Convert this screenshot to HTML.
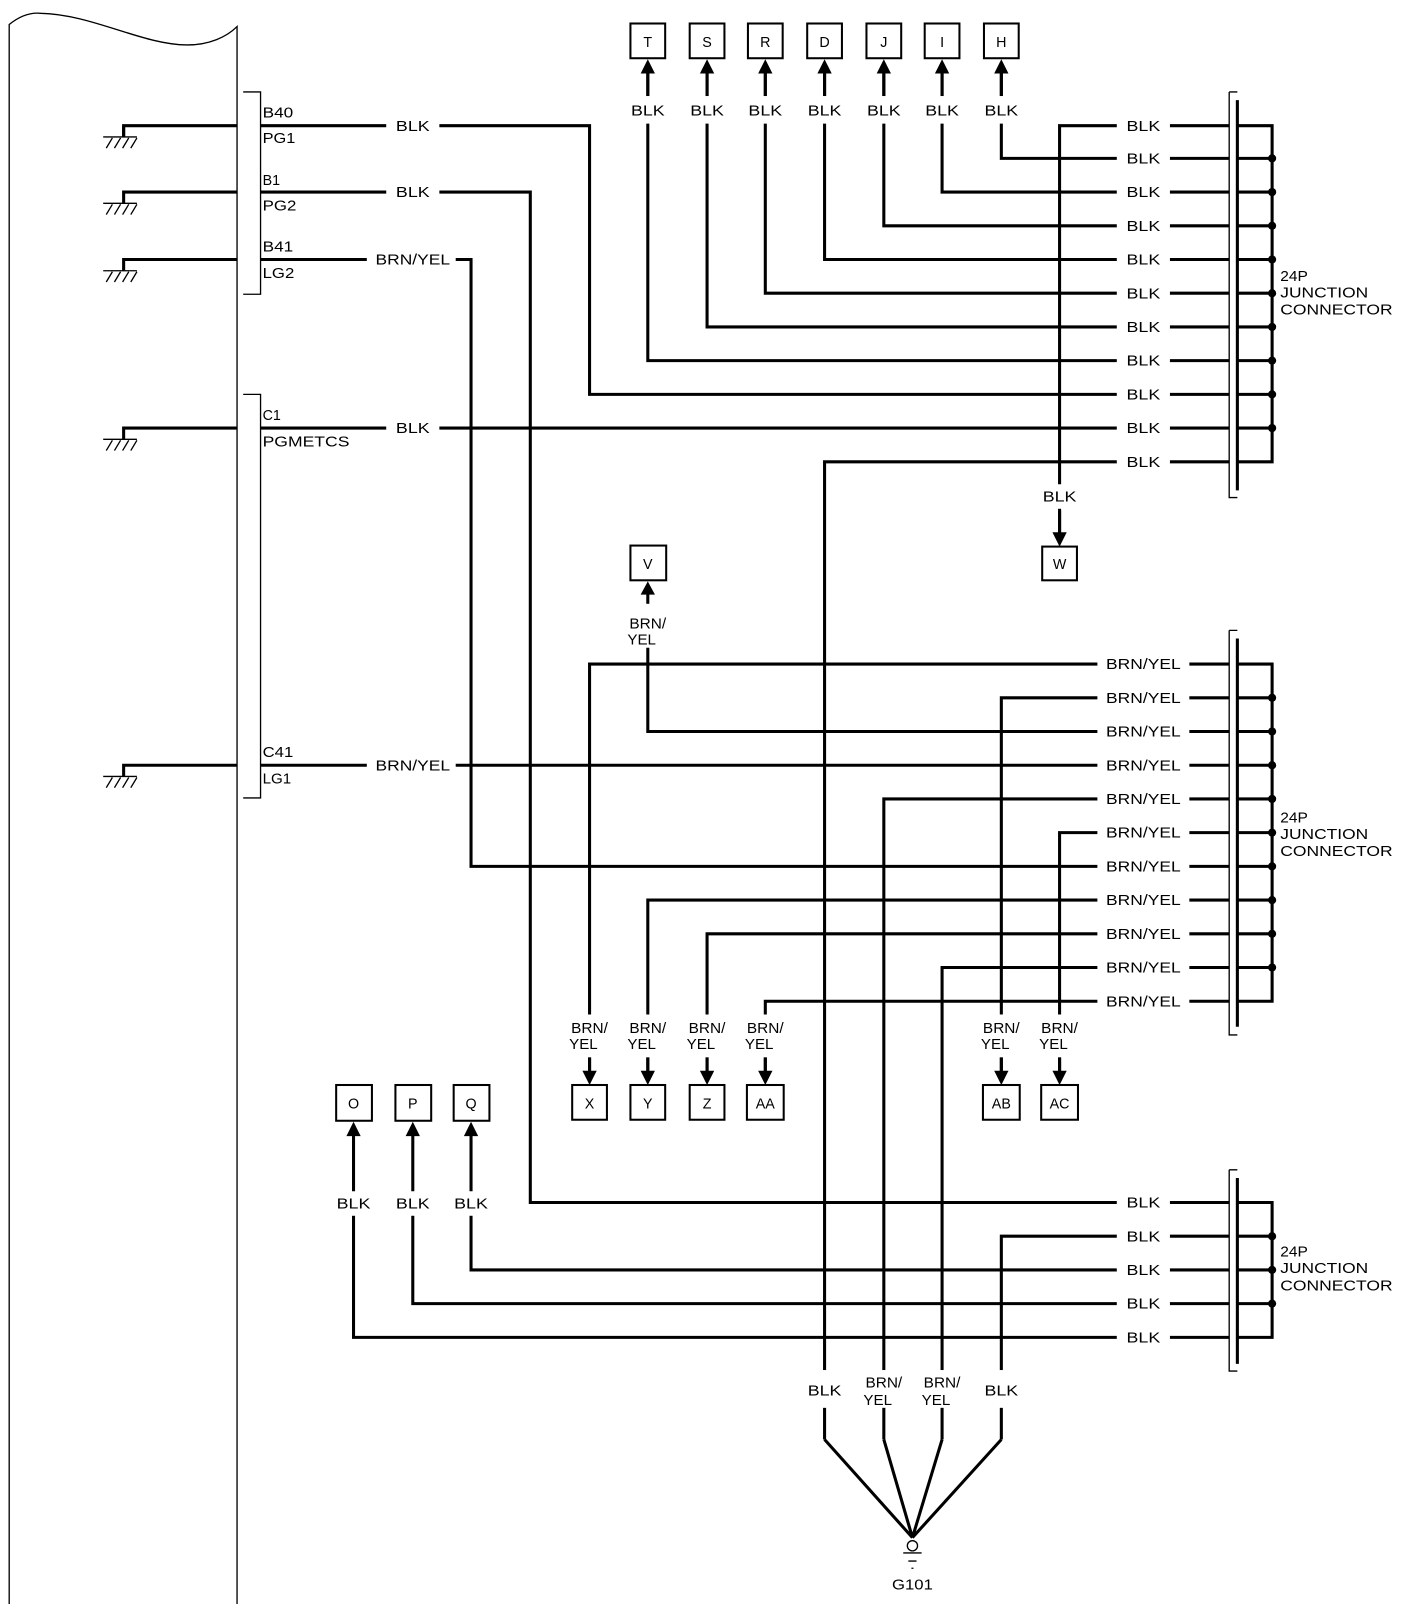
<!DOCTYPE html>
<html><head><meta charset="utf-8"><style>
html,body{margin:0;padding:0;background:#fff}
svg{display:block}
text{font-family:"Liberation Sans",Arial,sans-serif;font-size:14px;fill:#000}
.c{text-anchor:middle}
.w{stroke:#000;stroke-width:3;fill:none}
.t{stroke:#000;stroke-width:1.3;fill:none}
.bx{stroke:#000;stroke-width:2;fill:#fff}
.wb{fill:#fff;stroke:none}
</style></head><body>
<svg width="1408" height="1604" viewBox="0 0 1378 1570" preserveAspectRatio="none" xmlns="http://www.w3.org/2000/svg">
<!-- module -->
<path class="t" stroke-width="2" d="M9 1570 V24 C20 15 30 12 40 13 C90 14 140 44 183 44 C205 44 222 36 232 26 V1570"/>
<!-- brackets -->
<path class="t" d="M238 90 H255 V288 H238"/>
<path class="t" d="M238 386 H255 V781 H238"/>
<!-- grounds -->
<g class="w">
<path d="M121 134 V123 H232"/><path d="M121 134 V123" />
<path d="M121 199 V188 H232"/>
<path d="M121 265 V254 H232"/>
<path d="M121 430 V419 H232"/>
<path d="M121 760 V749 H232"/>
</g>
<g class="t">
<path d="M101 134 H134 M104 145 L110 135 M112 145 L118 135 M120 145 L126 135 M128 145 L134 135"/>
<path d="M101 199 H134 M104 210 L110 200 M112 210 L118 200 M120 210 L126 200 M128 210 L134 200"/>
<path d="M101 265 H134 M104 276 L110 266 M112 276 L118 266 M120 276 L126 266 M128 276 L134 266"/>
<path d="M101 430 H134 M104 441 L110 431 M112 441 L118 431 M120 441 L126 431 M128 441 L134 431"/>
<path d="M101 760 H134 M104 771 L110 761 M112 771 L118 761 M120 771 L126 761 M128 771 L134 761"/>
</g>
<text x="257" y="115" textLength="30" lengthAdjust="spacingAndGlyphs">B40</text>
<text x="257" y="140" textLength="32" lengthAdjust="spacingAndGlyphs">PG1</text>
<text x="257" y="181">B1</text>
<text x="257" y="206" textLength="33" lengthAdjust="spacingAndGlyphs">PG2</text>
<text x="257" y="246" textLength="30" lengthAdjust="spacingAndGlyphs">B41</text>
<text x="257" y="272" textLength="31" lengthAdjust="spacingAndGlyphs">LG2</text>
<text x="257" y="411">C1</text>
<text x="257" y="437" textLength="85" lengthAdjust="spacingAndGlyphs">PGMETCS</text>
<text x="257" y="741" textLength="30" lengthAdjust="spacingAndGlyphs">C41</text>
<text x="257" y="767" textLength="28" lengthAdjust="spacingAndGlyphs">LG1</text>

<!-- wires -->
<g class="w">
<path d="M255 123 H577 V386 H1203"/>
<path d="M255 188 H519 V1177 H1203"/>
<path d="M255 254 H461 V848 H1203"/>
<path d="M255 419 H1203"/>
<path d="M255 749 H1203"/>
<!-- connector 1 rows -->
<path d="M1037 522 V123 H1203"/>
<path d="M980 71 V155 H1203"/>
<path d="M922 71 V188 H1203"/>
<path d="M865 71 V221 H1203"/>
<path d="M807 71 V254 H1203"/>
<path d="M749 71 V287 H1203"/>
<path d="M692 71 V320 H1203"/>
<path d="M634 71 V353 H1203"/>
<path d="M807 1409 V452 H1203"/>
<!-- connector 2 rows -->
<path d="M577 1049 V650 H1203"/>
<path d="M980 1049 V683 H1203"/>
<path d="M634 581 V716 H1203"/>
<path d="M865 1409 V782 H1203"/>
<path d="M1037 1049 V815 H1203"/>
<path d="M634 1049 V881 H1203"/>
<path d="M692 1049 V914 H1203"/>
<path d="M922 1409 V947 H1203"/>
<path d="M749 1049 V980 H1203"/>
<!-- connector 3 rows -->
<path d="M980 1409 V1210 H1203"/>
<path d="M461 1110 V1243 H1203"/>
<path d="M404 1110 V1276 H1203"/>
<path d="M346 1110 V1309 H1203"/>
<!-- G101 -->
<path d="M807 1409 L893 1505 M865 1409 L893 1505 M922 1409 L893 1505 M980 1409 L893 1505"/>
</g>
<circle cx="893" cy="1513" r="5" fill="#fff" stroke="#000" stroke-width="1.3"/>
<path class="t" d="M884 1520 H902 M889 1528 H897 M892 1535 H894"/>
<text class="c" x="893" y="1556" textLength="40" lengthAdjust="spacingAndGlyphs">G101</text>

<!-- connectors right side -->
<g>
<path class="t" d="M1203 90 H1211 M1203 90 V487 H1211"/>
<path class="w" d="M1211 98 V480"/>
<path class="w" d="M1211 123 H1245 V452 H1211 M1211 155 H1245 M1211 188 H1245 M1211 221 H1245 M1211 254 H1245 M1211 287 H1245 M1211 320 H1245 M1211 353 H1245 M1211 386 H1245 M1211 419 H1245"/>
<path class="t" d="M1203 617 H1211 M1203 617 V1013 H1211"/>
<path class="w" d="M1211 625 V1005"/>
<path class="w" d="M1211 650 H1245 V980 H1211 M1211 683 H1245 M1211 716 H1245 M1211 749 H1245 M1211 782 H1245 M1211 815 H1245 M1211 848 H1245 M1211 881 H1245 M1211 914 H1245 M1211 947 H1245"/>
<path class="t" d="M1203 1145 H1211 M1203 1145 V1342 H1211"/>
<path class="w" d="M1211 1153 V1335"/>
<path class="w" d="M1211 1177 H1245 V1309 H1211 M1211 1210 H1245 M1211 1243 H1245 M1211 1276 H1245"/>
</g>
<g fill="#000">
<circle cx="1245" cy="155" r="4"/><circle cx="1245" cy="188" r="4"/><circle cx="1245" cy="221" r="4"/><circle cx="1245" cy="254" r="4"/><circle cx="1245" cy="287" r="4"/><circle cx="1245" cy="320" r="4"/><circle cx="1245" cy="353" r="4"/><circle cx="1245" cy="386" r="4"/><circle cx="1245" cy="419" r="4"/>
<circle cx="1245" cy="683" r="4"/><circle cx="1245" cy="716" r="4"/><circle cx="1245" cy="749" r="4"/><circle cx="1245" cy="782" r="4"/><circle cx="1245" cy="815" r="4"/><circle cx="1245" cy="848" r="4"/><circle cx="1245" cy="881" r="4"/><circle cx="1245" cy="914" r="4"/><circle cx="1245" cy="947" r="4"/>
<circle cx="1245" cy="1210" r="4"/><circle cx="1245" cy="1243" r="4"/><circle cx="1245" cy="1276" r="4"/>
</g>
<g font-size="14">
<text x="1253" y="275" textLength="27" lengthAdjust="spacingAndGlyphs">24P</text>
<text x="1253" y="291" textLength="86" lengthAdjust="spacingAndGlyphs">JUNCTION</text>
<text x="1253" y="308" textLength="110" lengthAdjust="spacingAndGlyphs">CONNECTOR</text>
<text x="1253" y="805" textLength="27" lengthAdjust="spacingAndGlyphs">24P</text>
<text x="1253" y="821" textLength="86" lengthAdjust="spacingAndGlyphs">JUNCTION</text>
<text x="1253" y="838" textLength="110" lengthAdjust="spacingAndGlyphs">CONNECTOR</text>
<text x="1253" y="1230" textLength="27" lengthAdjust="spacingAndGlyphs">24P</text>
<text x="1253" y="1246" textLength="86" lengthAdjust="spacingAndGlyphs">JUNCTION</text>
<text x="1253" y="1263" textLength="110" lengthAdjust="spacingAndGlyphs">CONNECTOR</text>
</g>

<!-- horizontal labels: left -->
<g>
<rect class="wb" x="378" y="113" width="52" height="20"/><text class="c" x="404" y="128" textLength="33" lengthAdjust="spacingAndGlyphs">BLK</text>
<rect class="wb" x="378" y="178" width="52" height="20"/><text class="c" x="404" y="193" textLength="33" lengthAdjust="spacingAndGlyphs">BLK</text>
<rect class="wb" x="359" y="244" width="87" height="20"/><text class="c" x="404" y="259" textLength="73" lengthAdjust="spacingAndGlyphs">BRN/YEL</text>
<rect class="wb" x="378" y="409" width="52" height="20"/><text class="c" x="404" y="424" textLength="33" lengthAdjust="spacingAndGlyphs">BLK</text>
<rect class="wb" x="359" y="739" width="87" height="20"/><text class="c" x="404" y="754" textLength="73" lengthAdjust="spacingAndGlyphs">BRN/YEL</text>
</g>
<!-- right labels conn1 -->
<g>
<rect class="wb" x="1093" y="113" width="52" height="350"/>
<text class="c" x="1119" y="128" textLength="33" lengthAdjust="spacingAndGlyphs">BLK</text>
<text class="c" x="1119" y="160" textLength="33" lengthAdjust="spacingAndGlyphs">BLK</text>
<text class="c" x="1119" y="193" textLength="33" lengthAdjust="spacingAndGlyphs">BLK</text>
<text class="c" x="1119" y="226" textLength="33" lengthAdjust="spacingAndGlyphs">BLK</text>
<text class="c" x="1119" y="259" textLength="33" lengthAdjust="spacingAndGlyphs">BLK</text>
<text class="c" x="1119" y="292" textLength="33" lengthAdjust="spacingAndGlyphs">BLK</text>
<text class="c" x="1119" y="325" textLength="33" lengthAdjust="spacingAndGlyphs">BLK</text>
<text class="c" x="1119" y="358" textLength="33" lengthAdjust="spacingAndGlyphs">BLK</text>
<text class="c" x="1119" y="391" textLength="33" lengthAdjust="spacingAndGlyphs">BLK</text>
<text class="c" x="1119" y="424" textLength="33" lengthAdjust="spacingAndGlyphs">BLK</text>
<text class="c" x="1119" y="457" textLength="33" lengthAdjust="spacingAndGlyphs">BLK</text>
</g>
<g>
<rect class="wb" x="1074" y="640" width="90" height="350"/>
<text class="c" x="1119" y="655" textLength="73" lengthAdjust="spacingAndGlyphs">BRN/YEL</text>
<text class="c" x="1119" y="688" textLength="73" lengthAdjust="spacingAndGlyphs">BRN/YEL</text>
<text class="c" x="1119" y="721" textLength="73" lengthAdjust="spacingAndGlyphs">BRN/YEL</text>
<text class="c" x="1119" y="754" textLength="73" lengthAdjust="spacingAndGlyphs">BRN/YEL</text>
<text class="c" x="1119" y="787" textLength="73" lengthAdjust="spacingAndGlyphs">BRN/YEL</text>
<text class="c" x="1119" y="820" textLength="73" lengthAdjust="spacingAndGlyphs">BRN/YEL</text>
<text class="c" x="1119" y="853" textLength="73" lengthAdjust="spacingAndGlyphs">BRN/YEL</text>
<text class="c" x="1119" y="886" textLength="73" lengthAdjust="spacingAndGlyphs">BRN/YEL</text>
<text class="c" x="1119" y="919" textLength="73" lengthAdjust="spacingAndGlyphs">BRN/YEL</text>
<text class="c" x="1119" y="952" textLength="73" lengthAdjust="spacingAndGlyphs">BRN/YEL</text>
<text class="c" x="1119" y="985" textLength="73" lengthAdjust="spacingAndGlyphs">BRN/YEL</text>
</g>
<g>
<rect class="wb" x="1093" y="1167" width="52" height="152"/>
<text class="c" x="1119" y="1182" textLength="33" lengthAdjust="spacingAndGlyphs">BLK</text>
<text class="c" x="1119" y="1215" textLength="33" lengthAdjust="spacingAndGlyphs">BLK</text>
<text class="c" x="1119" y="1248" textLength="33" lengthAdjust="spacingAndGlyphs">BLK</text>
<text class="c" x="1119" y="1281" textLength="33" lengthAdjust="spacingAndGlyphs">BLK</text>
<text class="c" x="1119" y="1314" textLength="33" lengthAdjust="spacingAndGlyphs">BLK</text>
</g>

<!-- top boxes -->
<g>
<rect class="wb" x="610" y="94" width="390" height="27"/>
<rect class="bx" x="617" y="23" width="34" height="34"/><text class="c" x="634" y="46">T</text>
<rect class="bx" x="675" y="23" width="34" height="34"/><text class="c" x="692" y="46">S</text>
<rect class="bx" x="732" y="23" width="34" height="34"/><text class="c" x="749" y="46">R</text>
<rect class="bx" x="790" y="23" width="34" height="34"/><text class="c" x="807" y="46">D</text>
<rect class="bx" x="848" y="23" width="34" height="34"/><text class="c" x="865" y="46">J</text>
<rect class="bx" x="905" y="23" width="34" height="34"/><text class="c" x="922" y="46">I</text>
<rect class="bx" x="963" y="23" width="34" height="34"/><text class="c" x="980" y="46">H</text>
<g fill="#000">
<polygon points="634,58 627,72 641,72"/><polygon points="692,58 685,72 699,72"/><polygon points="749,58 742,72 756,72"/><polygon points="807,58 800,72 814,72"/><polygon points="865,58 858,72 872,72"/><polygon points="922,58 915,72 929,72"/><polygon points="980,58 973,72 987,72"/>
</g>
<path class="w" d="M634 72 V94 M692 72 V94 M749 72 V94 M807 72 V94 M865 72 V94 M922 72 V94 M980 72 V94"/>
<text class="c" x="634" y="113" textLength="33" lengthAdjust="spacingAndGlyphs">BLK</text>
<text class="c" x="692" y="113" textLength="33" lengthAdjust="spacingAndGlyphs">BLK</text>
<text class="c" x="749" y="113" textLength="33" lengthAdjust="spacingAndGlyphs">BLK</text>
<text class="c" x="807" y="113" textLength="33" lengthAdjust="spacingAndGlyphs">BLK</text>
<text class="c" x="865" y="113" textLength="33" lengthAdjust="spacingAndGlyphs">BLK</text>
<text class="c" x="922" y="113" textLength="33" lengthAdjust="spacingAndGlyphs">BLK</text>
<text class="c" x="980" y="113" textLength="33" lengthAdjust="spacingAndGlyphs">BLK</text>
</g>

<!-- W -->
<rect class="wb" x="1017" y="474" width="40" height="24"/>
<text class="c" x="1037" y="491" textLength="33" lengthAdjust="spacingAndGlyphs">BLK</text>
<path class="w" d="M1037 500 V522"/>
<polygon points="1037,535 1030,521 1044,521" fill="#000"/>
<rect class="bx" x="1020" y="535" width="34" height="33"/><text class="c" x="1037" y="557">W</text>

<!-- V -->
<rect class="bx" x="617" y="534" width="35" height="34"/><text class="c" x="634" y="557">V</text>
<polygon points="634,569 627,582 641,582" fill="#000"/>
<rect class="wb" x="612" y="591" width="44" height="43"/>
<text class="c" x="634" y="615" textLength="36" lengthAdjust="spacingAndGlyphs">BRN/</text>
<text x="614" y="631" textLength="28" lengthAdjust="spacingAndGlyphs">YEL</text>

<!-- bottom BRN/YEL boxes -->
<rect class="wb" x="550" y="993" width="230" height="42"/>
<rect class="wb" x="955" y="993" width="110" height="42"/>
<g>
<text class="c" x="577" y="1011" textLength="36" lengthAdjust="spacingAndGlyphs">BRN/</text><text x="557" y="1027" textLength="28" lengthAdjust="spacingAndGlyphs">YEL</text>
<text class="c" x="634" y="1011" textLength="36" lengthAdjust="spacingAndGlyphs">BRN/</text><text x="614" y="1027" textLength="28" lengthAdjust="spacingAndGlyphs">YEL</text>
<text class="c" x="692" y="1011" textLength="36" lengthAdjust="spacingAndGlyphs">BRN/</text><text x="672" y="1027" textLength="28" lengthAdjust="spacingAndGlyphs">YEL</text>
<text class="c" x="749" y="1011" textLength="36" lengthAdjust="spacingAndGlyphs">BRN/</text><text x="729" y="1027" textLength="28" lengthAdjust="spacingAndGlyphs">YEL</text>
<text class="c" x="980" y="1011" textLength="36" lengthAdjust="spacingAndGlyphs">BRN/</text><text x="960" y="1027" textLength="28" lengthAdjust="spacingAndGlyphs">YEL</text>
<text class="c" x="1037" y="1011" textLength="36" lengthAdjust="spacingAndGlyphs">BRN/</text><text x="1017" y="1027" textLength="28" lengthAdjust="spacingAndGlyphs">YEL</text>
</g>
<path class="w" d="M577 1035 V1049 M634 1035 V1049 M692 1035 V1049 M749 1035 V1049 M980 1035 V1049 M1037 1035 V1049"/>
<g fill="#000">
<polygon points="577,1062 570,1048 584,1048"/><polygon points="634,1062 627,1048 641,1048"/><polygon points="692,1062 685,1048 699,1048"/><polygon points="749,1062 742,1048 756,1048"/><polygon points="980,1062 973,1048 987,1048"/><polygon points="1037,1062 1030,1048 1044,1048"/>
</g>
<rect class="bx" x="560" y="1062" width="34" height="34"/><text class="c" x="577" y="1085">X</text>
<rect class="bx" x="617" y="1062" width="34" height="34"/><text class="c" x="634" y="1085">Y</text>
<rect class="bx" x="675" y="1062" width="34" height="34"/><text class="c" x="692" y="1085">Z</text>
<rect class="bx" x="731" y="1062" width="36" height="34"/><text class="c" x="749" y="1085">AA</text>
<rect class="bx" x="962" y="1062" width="36" height="34"/><text class="c" x="980" y="1085">AB</text>
<rect class="bx" x="1019" y="1062" width="36" height="34"/><text class="c" x="1037" y="1085">AC</text>

<!-- O P Q -->
<rect class="bx" x="329" y="1062" width="35" height="35"/><text class="c" x="346" y="1085">O</text>
<rect class="bx" x="387" y="1062" width="35" height="35"/><text class="c" x="404" y="1085">P</text>
<rect class="bx" x="444" y="1062" width="35" height="35"/><text class="c" x="461" y="1085">Q</text>
<g fill="#000">
<polygon points="346,1098 339,1112 353,1112"/><polygon points="404,1098 397,1112 411,1112"/><polygon points="461,1098 454,1112 468,1112"/>
</g>
<rect class="wb" x="325" y="1166" width="160" height="24"/>
<text class="c" x="346" y="1183" textLength="33" lengthAdjust="spacingAndGlyphs">BLK</text>
<text class="c" x="404" y="1183" textLength="33" lengthAdjust="spacingAndGlyphs">BLK</text>
<text class="c" x="461" y="1183" textLength="33" lengthAdjust="spacingAndGlyphs">BLK</text>

<!-- G101 labels -->
<rect class="wb" x="785" y="1341" width="220" height="37"/>
<text class="c" x="807" y="1366" textLength="33" lengthAdjust="spacingAndGlyphs">BLK</text>
<text class="c" x="865" y="1358" textLength="36" lengthAdjust="spacingAndGlyphs">BRN/</text><text x="845" y="1375" textLength="28" lengthAdjust="spacingAndGlyphs">YEL</text>
<text class="c" x="922" y="1358" textLength="36" lengthAdjust="spacingAndGlyphs">BRN/</text><text x="902" y="1375" textLength="28" lengthAdjust="spacingAndGlyphs">YEL</text>
<text class="c" x="980" y="1366" textLength="33" lengthAdjust="spacingAndGlyphs">BLK</text>
</svg>
</body></html>
